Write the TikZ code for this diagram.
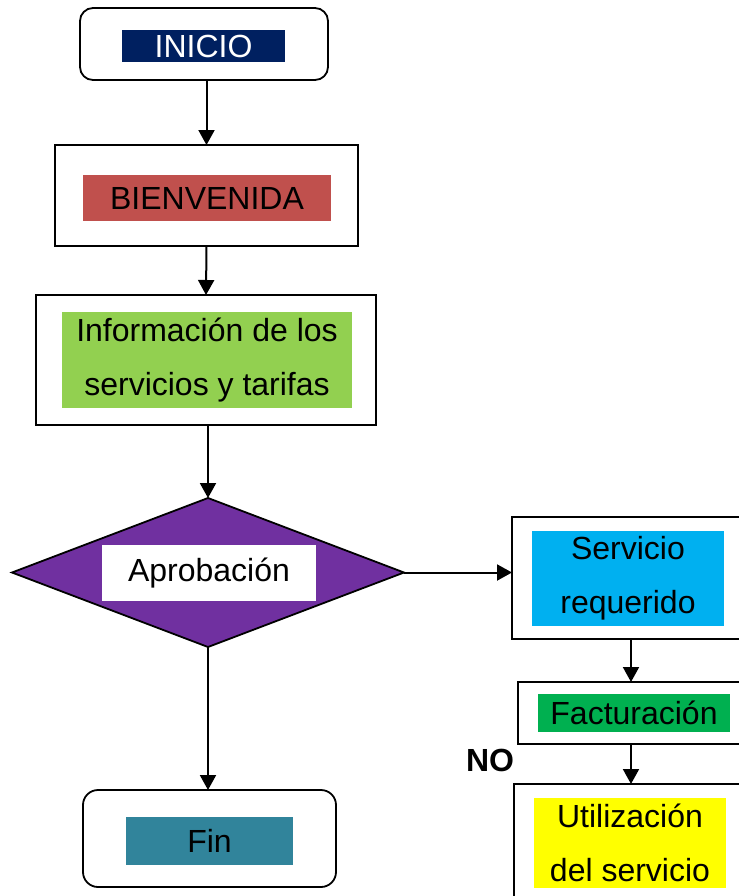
\documentclass[tikz,border=0pt]{standalone}
\usepackage{fontspec}
\setmainfont{Liberation Sans}
\usetikzlibrary{shapes.geometric,arrows.meta}
\definecolor{cnavy}{HTML}{002060}
\definecolor{cred}{HTML}{C0504D}
\definecolor{cgreen}{HTML}{92D050}
\definecolor{cpurple}{HTML}{7030A0}
\definecolor{ccyan}{HTML}{00B0F0}
\definecolor{cdgreen}{HTML}{00B050}
\definecolor{cyellow}{HTML}{FFFF00}
\definecolor{cteal}{HTML}{31849B}
\tikzset{
  outerbox/.style={draw=black, line width=0.9pt, fill=white, inner sep=0pt, outer sep=0pt},
  roundbox/.style={outerbox, rounded corners=6.5pt},
  label/.style={inner sep=0pt, outer sep=0pt, align=center, font=\fontsize{16}{27}\selectfont},
  arr/.style={line width=1pt, -{Triangle[width=8pt,length=7.5pt]}},
}
\begin{document}
\begin{tikzpicture}[x=0.5pt,y=-0.5pt]
\clip (0,0) rectangle (739,896);
\fill[white] (0,0) rectangle (739,896);
% INICIO
\node[roundbox, minimum width=124pt, minimum height=36pt] (ini) at (204,44) {};
\node[label, fill=cnavy, text=white, minimum width=81.5pt, minimum height=16pt] (inil) at (203.5,46) {INICIO};
% BIENVENIDA
\node[outerbox, minimum width=151.5pt, minimum height=50.5pt] (bien) at (206.5,195.5) {};
\node[label, fill=cred, minimum width=124pt, minimum height=23pt] (bienl) at (207,198) {BIENVENIDA};
% Informacion
\node[outerbox, minimum width=170pt, minimum height=65pt] (info) at (206,360) {};
\node[label, fill=cgreen, minimum width=145pt, minimum height=48pt] (infol) at (207,360) {Información de los\\servicios y tarifas};
% Diamond
\node[diamond, draw=black, line width=0.9pt, fill=cpurple, inner sep=0pt, outer sep=0pt, minimum width=196pt, minimum height=74.5pt] (dia) at (208,572.5) {};
\node[label, fill=white, minimum width=107pt, minimum height=28pt] (dial) at (209,573) {Aprobación};
% Servicio requerido
\node[outerbox, minimum width=119pt, minimum height=61pt] (serv) at (631,578) {};
\node[label, fill=ccyan, minimum width=96pt, minimum height=47.5pt] (servl) at (628,578.5) {Servicio\\requerido};
% Facturacion
\node[outerbox, minimum width=116pt, minimum height=31pt] (fact) at (634,713) {};
\node[label, fill=cdgreen, minimum width=96pt, minimum height=19pt] (factl) at (634,713) {Facturación};
% Utilizacion
\node[outerbox, minimum width=118pt, minimum height=58pt] (util) at (632,842) {};
\node[label, fill=cyellow, minimum width=96pt, minimum height=45pt] (utill) at (630,843) {Utilización\\del servicio};
% Fin
\node[roundbox, minimum width=126.5pt, minimum height=48.5pt, rounded corners=7.5pt] (fin) at (209.5,838.5) {};
\node[label, fill=cteal, minimum width=83.5pt, minimum height=24pt] (finl) at (209.5,841) {Fin};
% NO
\node[inner sep=0pt, font=\fontsize{16}{19}\selectfont\bfseries] (no) at (490,760) {NO};
% arrows
\draw[arr] (ini.south -| bien.north) -- (bien.north);
\draw[arr] (bien.south) -- (info.north);
\draw[arr] (info.south -| dia.north) -- (dia.north);
\draw[arr] (dia.east) -- (dia.east -| serv.west);
\draw[arr] (dia.south) -- (dia.south |- fin.north);
\draw[arr] (serv.south) -- (serv.south |- fact.north);
\draw[arr] (fact.south -| serv.south) -- (serv.south |- util.north);
\end{tikzpicture}
\end{document}
